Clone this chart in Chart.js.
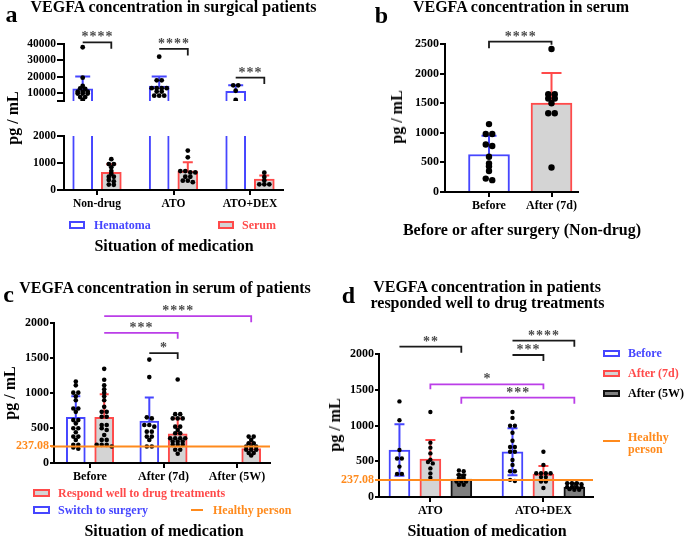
<!DOCTYPE html>
<html>
<head>
<meta charset="utf-8">
<title>VEGFA concentration</title>
<script src="https://cdn.jsdelivr.net/npm/chart.js@4.4.0/dist/chart.umd.min.js"></script>
<style>
  html, body { margin: 0; padding: 0; background: #fff; }
  #page { position: relative; width: 685px; height: 538px; overflow: hidden; background: #fff;
          font-family: 'Liberation Serif', 'Times New Roman', serif; font-weight: bold; color: #000; }
  #page canvas { position: absolute; }
  .t { position: absolute; white-space: nowrap; line-height: 1; transform: translate(-50%, -50%); }
  .l { position: absolute; white-space: nowrap; line-height: 1; transform: translateY(-50%); font-size: 12px; }
  .rot { transform: translate(-50%, -50%) rotate(-90deg); }
  .box { position: absolute; box-sizing: border-box; border: 2px solid; }
  .dash { position: absolute; height: 2px; background: #ff8a1c; }
</style>
</head>
<body>
<div id="page">
  <canvas id="chartA1"></canvas>
  <canvas id="chartA2"></canvas>
  <canvas id="chartB"></canvas>
  <canvas id="chartC"></canvas>
  <canvas id="chartD"></canvas>

  <!-- panel a -->
  <div class="t" style="left:11.5px;top:14px;font-size:24px">a</div>
  <div class="t" style="left:173.5px;top:6.5px;font-size:16px">VEGFA concentration in surgical patients</div>
  <div class="t rot" style="left:13px;top:117.5px;font-size:16px">pg / mL</div>
  <div class="box" style="left:69px;top:221px;width:16px;height:8px;border-color:#4646ff;background:#fff"></div>
  <div class="l" style="left:94px;top:225px;color:#4646ff">Hematoma</div>
  <div class="box" style="left:218px;top:221px;width:16px;height:8px;border-color:#ff4a4a;background:#d4d4d4"></div>
  <div class="l" style="left:242px;top:225px;color:#ff4a4a">Serum</div>
  <div class="t" style="left:174px;top:245.5px;font-size:16px">Situation of medication</div>

  <!-- panel b -->
  <div class="t" style="left:381.5px;top:15px;font-size:24px">b</div>
  <div class="t" style="left:521px;top:6.5px;font-size:16px">VEGFA concentration in serum</div>
  <div class="t rot" style="left:397px;top:116.5px;font-size:16px">pg / mL</div>
  <div class="t" style="left:522px;top:230px;font-size:16px">Before or after surgery (Non-drug)</div>

  <!-- panel c -->
  <div class="t" style="left:8.5px;top:293.5px;font-size:24px">c</div>
  <div class="t" style="left:165px;top:287.5px;font-size:16px">VEGFA concentration in serum of patients</div>
  <div class="t rot" style="left:10px;top:393px;font-size:16px">pg / mL</div>
  <div class="box" style="left:33px;top:489px;width:17px;height:8px;border-color:#ff4a4a;background:#d4d4d4"></div>
  <div class="l" style="left:58px;top:493px;color:#ff4a4a">Respond well to drug treatments</div>
  <div class="box" style="left:33px;top:506px;width:17px;height:8px;border-color:#4646ff;background:#fff"></div>
  <div class="l" style="left:58px;top:510px;color:#4646ff">Switch to surgery</div>
  <div class="dash" style="left:191px;top:509px;width:12px"></div>
  <div class="l" style="left:213px;top:510px;color:#ff8a1c">Healthy person</div>
  <div class="t" style="left:164px;top:530.5px;font-size:16px">Situation of medication</div>

  <!-- panel d -->
  <div class="t" style="left:348.5px;top:295px;font-size:24px">d</div>
  <div class="t" style="left:487px;top:286.5px;font-size:16px">VEGFA concentration in patients</div>
  <div class="t" style="left:487.5px;top:303px;font-size:16px">responded well to drug treatments</div>
  <div class="t rot" style="left:335px;top:425px;font-size:16px">pg / mL</div>
  <div class="box" style="left:603px;top:349.5px;width:17px;height:7px;border-color:#4646ff;background:#fff"></div>
  <div class="l" style="left:628px;top:353px;color:#4646ff">Before</div>
  <div class="box" style="left:603px;top:369.5px;width:17px;height:7px;border-color:#ff4a4a;background:#d4d4d4"></div>
  <div class="l" style="left:628px;top:373px;color:#ff4a4a">After (7d)</div>
  <div class="box" style="left:603px;top:389.5px;width:17px;height:7px;border-color:#111;background:#7f7f7f"></div>
  <div class="l" style="left:628px;top:393px">After (5W)</div>
  <div class="dash" style="left:603px;top:440px;width:17px"></div>
  <div class="l" style="left:628px;top:436.5px;color:#ff8a1c">Healthy</div>
  <div class="l" style="left:628px;top:449px;color:#ff8a1c">person</div>
  <div class="t" style="left:487px;top:530.5px;font-size:16px">Situation of medication</div>
</div>

<script>
// ---- data ----
const aCategories = ['Non-drug', 'ATO', 'ATO+DEX'];
const aHematomaMean = [12500, 14200, 11000];
const aHematomaSD = [7600, 5800, 3700];
const aSerumMean = [650, 700, 400];
const aSerumSD = [300, 330, 140];
const aHematomaPoints = [
    [38000, 19300, 14200, 12800, 12500, 10700, 10700, 10700, 9600, 9600, 9600, 7400, 7400, 5600],
    [32200, 17700, 17700, 12900, 12900, 12900, 12900, 10800, 10800, 8300, 8300, 8300],
    [14600, 14600, 11300, 5600]
];
const aSerumPoints = [
    [1140, 960, 960, 840, 700, 600, 490, 490, 370, 320, 200, 190],
    [1460, 1210, 700, 700, 650, 650, 490, 490, 345, 345, 290],
    [640, 480, 350, 210, 210, 210]
];
const aTopTicks = [5000, 10000, 20000, 30000, 40000];
const aBottomTicks = [0, 1000, 2000];

const bCategories = ['Before', 'After (7d)'];
const bMean = [634, 1500];
const bSD = [316, 510];
const bPoints = [
    [1147, 980, 980, 803, 776, 595, 481, 436, 355, 226, 200],
    [2415, 1650, 1650, 1580, 1580, 1500, 1330, 1330, 413]
];
const bTicks = [0, 500, 1000, 1500, 2000, 2500];

const healthy = 237.08;
const cCategories = ['Before', 'After (7d)', 'After (5W)'];
const cSwitchMean = [652, 600, null];
const cSwitchSD = [300, 335, null];
const cRespondMean = [652, 415, 207];
const cRespondSD = [330, 222, 76];
const cSwitchPoints = [
    [1165, 1109, 1005, 1005, 953, 896, 779, 779, 731, 613, 613, 566, 496, 496, 439, 377, 377, 330, 259, 259, 221, 203],
    [1477, 1227, 652, 637, 542, 542, 519, 448, 448, 377, 377, 330, 236, 236],
    []
];
const cRespondPoints = [
    [1345, 1189, 1109, 1052, 1005, 953, 896, 802, 731, 731, 660, 660, 542, 542, 496, 472, 401, 330, 330, 259, 259, 259, 236],
    [1193, 698, 698, 637, 637, 637, 519, 519, 472, 425, 425, 354, 354, 354, 354, 306, 306, 306, 259, 259, 259, 189, 189, 132],
    [377, 377, 330, 283, 283, 236, 236, 236, 189, 189, 189, 142, 142, 108]
];
const cTicks = [0, healthy, 500, 1000, 1500, 2000];

const dCategories = ['ATO', 'ATO+DEX'];
const dBeforeMean = [657, 633];
const dBeforeSD = [360, 330];
const d7dMean = [532, 319];
const d7dSD = [264, 116];
const d5wMean = [250, 139];
const d5wSD = [60, 55];
const dBeforePoints = [
    [1337, 1073, 657, 539, 539, 425, 323, 323],
    [1189, 1106, 997, 997, 898, 787, 700, 700, 633, 633, 518, 449, 361, 361, 240, 224]
];
const d7dPoints = [
    [1189, 760, 690, 610, 520, 490, 470, 400, 330, 270],
    [633, 449, 333, 333, 333, 333, 278, 278, 217, 217, 125]
];
const d5wPoints = [
    [370, 360, 310, 300, 264, 264, 217, 217, 217, 171, 171],
    [194, 194, 194, 180, 139, 139, 139, 139, 110, 101, 101]
];
const dTicks = [0, healthy, 500, 1000, 1500, 2000];

// ---- styling ----
const BLUE = '#4646ff', RED = '#ff4a4a', GREY = '#d4d4d4', DARK = '#7f7f7f';
const ORANGE = '#ff8a1c', PURPLE = '#bb3ee8', INK = '#1a1a1a', STAR = '#4a4a4a';
const FONT = "'Liberation Serif', 'Times New Roman', serif";
const PAD = 14, PADT = 34;

// spread points of one column into rows, like a scatter dot plot
function swarm(values, center, pxPerX, pxPerY, gap) {
    const sorted = values.slice().sort((p, q) => q - p);
    const rows = [];
    sorted.forEach(v => {
        const row = rows[rows.length - 1];
        if (row && (row[0] - v) * pxPerY < 2) row.push(v); else rows.push([v]);
    });
    const out = [];
    rows.forEach(row => row.forEach((v, k) => {
        out.push({ x: center + (k - (row.length - 1) / 2) * gap / pxPerX, y: v });
    }));
    return out;
}

const errorBars = {
    id: 'errorBars',
    afterDatasetDraw(chart, args) {
        const ds = chart.data.datasets[args.index];
        if (ds.type !== 'bar') return;
        const y = chart.scales.y, ctx = chart.ctx;
        ctx.save();
        ctx.strokeStyle = ds.errColor;
        ctx.lineWidth = 2;
        args.meta.data.forEach((bar, i) => {
            const p = ds.data[i];
            if (!p.sd) return;
            const top = y.getPixelForValue(p.y + p.sd);
            const bottom = ds.errBoth ? y.getPixelForValue(p.y - p.sd) : bar.y;
            const c = ds.cap / 2;
            ctx.beginPath();
            ctx.moveTo(bar.x, bottom); ctx.lineTo(bar.x, top);
            ctx.moveTo(bar.x - c, top); ctx.lineTo(bar.x + c, top);
            if (ds.errBoth) { ctx.moveTo(bar.x - c, bottom); ctx.lineTo(bar.x + c, bottom); }
            ctx.stroke();
        });
        ctx.restore();
    }
};

function annotate(brackets, line) {
    return {
        id: 'annotate',
        afterDatasetsDraw(chart) {
            const ctx = chart.ctx, x = chart.scales.x, y = chart.scales.y, area = chart.chartArea;
            ctx.save();
            if (line != null) {
                const hy = y.getPixelForValue(line);
                ctx.strokeStyle = ORANGE; ctx.lineWidth = 2;
                ctx.beginPath(); ctx.moveTo(area.left - 3, hy); ctx.lineTo(area.right, hy); ctx.stroke();
            }
            ctx.font = 'bold 14px ' + FONT;
            ctx.letterSpacing = '1px';
            ctx.textAlign = 'center';
            ctx.textBaseline = 'alphabetic';
            brackets.forEach(b => {
                const x1 = x.getPixelForValue(b.x1), x2 = x.getPixelForValue(b.x2), yy = y.getPixelForValue(b.y);
                ctx.strokeStyle = b.color; ctx.lineWidth = 1.8;
                ctx.beginPath();
                ctx.moveTo(x1, yy + (b.dropL || 0)); ctx.lineTo(x1, yy);
                ctx.lineTo(x2, yy); ctx.lineTo(x2, yy + (b.dropR || 0));
                ctx.stroke();
                ctx.fillStyle = STAR;
                ctx.fillText(b.text, (x1 + x2) / 2 + 0.5, yy - 1);
            });
            ctx.restore();
        }
    };
}

function buildPanel(id, geo, cats, yMin, yMax, yTicks, series, brackets, opts) {
    opts = opts || {};
    const pxX = geo.step;
    const pxY = (geo.b - geo.t) / (yMax - yMin);
    const showX = !opts.hideX;
    const canvas = document.getElementById(id);
    const w = geo.r - geo.l + geo.yw + 2 * PAD;
    const h = geo.b - geo.t + PADT + PAD + (showX ? geo.xh : 0);
    canvas.width = w; canvas.height = h;
    canvas.style.width = w + 'px'; canvas.style.height = h + 'px';
    canvas.style.left = (geo.l - geo.yw - PAD) + 'px';
    canvas.style.top = (geo.t - PADT) + 'px';

    const datasets = [];
    series.forEach(s => {
        const off = (s.offset || 0) / pxX;
        if (s.mean) {
            const bars = [];
            s.mean.forEach((m, i) => {
                if (m != null) bars.push({ x: i + off, y: m, sd: s.sd ? s.sd[i] : null });
            });
            datasets.push({
                type: 'bar', data: bars, backgroundColor: s.fill, borderColor: s.stroke,
                borderWidth: 2, borderSkipped: 'start', barThickness: geo.bar, grouped: false,
                clip: 0, order: 2, errColor: s.stroke, errBoth: !!s.both, cap: s.cap || 10
            });
        }
        if (s.points) {
            s.points.forEach((vals, i) => {
                if (!vals.length) return;
                datasets.push({
                    type: 'scatter', data: swarm(vals, i + off, pxX, pxY, geo.gap),
                    pointRadius: geo.dot, pointBackgroundColor: '#000', pointBorderWidth: 0, order: 0
                });
            });
        }
    });

    const marks = (brackets || []).map(b => ({
        x1: b.from[0] + (series[b.from[1]].offset || 0) / pxX,
        x2: b.to[0] + (series[b.to[1]].offset || 0) / pxX,
        y: b.y, text: b.text, color: b.color, dropL: b.dropL, dropR: b.dropR
    }));

    const isHealthy = v => Math.abs(v - healthy) < 0.001;
    const tickFont = { family: FONT, size: geo.font || 12, weight: 'bold' };

    return new Chart(canvas, {
        type: 'bar',
        data: { datasets: datasets },
        options: {
            responsive: false,
            animation: false,
            events: [],
            layout: { padding: { left: PAD, right: PAD, top: PADT, bottom: PAD } },
            plugins: { legend: { display: false }, tooltip: { enabled: false } },
            scales: {
                x: {
                    type: 'linear', display: showX, offset: false,
                    min: (geo.l - geo.cat0) / pxX, max: (geo.r - geo.cat0) / pxX,
                    afterBuildTicks: s => { s.ticks = cats.map((c, i) => ({ value: i })); },
                    afterFit: s => { s.height = geo.xh; },
                    ticks: { callback: v => cats[v], color: '#000', font: tickFont, padding: 2,
                             autoSkip: false, maxRotation: 0, minRotation: 0 },
                    grid: { offset: false, drawOnChartArea: false, drawTicks: true, tickLength: 5,
                            color: '#000', lineWidth: 2 },
                    border: { display: true, color: '#000', width: 2 }
                },
                y: {
                    type: 'linear', min: yMin, max: yMax,
                    afterBuildTicks: s => { s.ticks = yTicks.map(v => ({ value: v })); },
                    afterFit: s => { s.width = geo.yw; },
                    ticks: {
                        callback: v => (opts.blank && opts.blank.includes(v)) ? '' : String(v),
                        color: c => (c.tick && isHealthy(c.tick.value)) ? ORANGE : '#000',
                        font: tickFont, padding: 1, autoSkip: false
                    },
                    grid: { drawOnChartArea: false, drawTicks: true, tickLength: geo.tick,
                            color: c => (c.tick && isHealthy(c.tick.value)) ? ORANGE : '#000', lineWidth: 2 },
                    border: { display: true, color: '#000', width: 2 }
                }
            }
        },
        plugins: [errorBars, annotate(marks, opts.line)]
    });
}

// ---- panel a: broken axis drawn as two stacked charts ----
const geoA = { l: 64, r: 283, cat0: 97, step: 76.5, yw: 44, xh: 24, tick: 7, bar: 20, gap: 5, dot: 2.4, font: 11.5 };
buildPanel('chartA1', Object.assign({}, geoA, { t: 44, b: 125 }), aCategories, 5000, 40000, aTopTicks,
    [{ offset: -14.3, mean: aHematomaMean, sd: aHematomaSD, points: aHematomaPoints, fill: '#fff', stroke: BLUE, cap: 15 },
     { offset: 14.3 }],
    [{ from: [0, 0], to: [0, 1], y: 41000, text: '****', color: INK, dropR: 6.5 },
     { from: [1, 0], to: [1, 1], y: 37000, text: '****', color: INK, dropR: 6.5 },
     { from: [2, 0], to: [2, 1], y: 19400, text: '***', color: INK, dropR: 6.5 }],
    { hideX: true, blank: [5000] });
buildPanel('chartA2', Object.assign({}, geoA, { t: 136, b: 190 }), aCategories, 0, 2000, aBottomTicks,
    [{ offset: -14.3, mean: aHematomaMean, fill: '#fff', stroke: BLUE },
     { offset: 14.3, mean: aSerumMean, sd: aSerumSD, points: aSerumPoints, fill: GREY, stroke: RED, cap: 10 }],
    []);

// ---- panel b ----
buildPanel('chartB', { l: 445, r: 578, t: 44, b: 192, cat0: 489, step: 62.5, yw: 44, xh: 24, tick: 5, bar: 41, gap: 6.5, dot: 3.2 },
    bCategories, 0, 2500, bTicks,
    [{ offset: 0, mean: bMean.map((v, i) => i === 0 ? v : null), sd: bSD, points: bPoints.map((p, i) => i === 0 ? p : []),
       fill: '#fff', stroke: BLUE, cap: 15 },
     { offset: 0, mean: bMean.map((v, i) => i === 1 ? v : null), sd: bSD, points: bPoints.map((p, i) => i === 1 ? p : []),
       fill: GREY, stroke: RED, cap: 20 }],
    [{ from: [0, 0], to: [1, 1], y: 2539, text: '****', color: INK, dropL: 6.5, dropR: 3 }]);

// ---- panel c ----
buildPanel('chartC', { l: 54, r: 270, t: 322.5, b: 463, cat0: 90, step: 73.5, yw: 50, xh: 24, tick: 4, bar: 19, gap: 5, dot: 2.3 },
    cCategories, 0, 2000, cTicks,
    [{ offset: -14.2, mean: cSwitchMean, sd: cSwitchSD, points: cSwitchPoints, fill: '#fff', stroke: BLUE, cap: 9 },
     { offset: 14.2, mean: cRespondMean, sd: cRespondSD, points: cRespondPoints, fill: GREY, stroke: RED, cap: 9 }],
    [{ from: [0, 1], to: [2, 1], y: 2097, text: '****', color: PURPLE, dropR: 6 },
     { from: [0, 1], to: [1, 1], y: 1860, text: '***', color: PURPLE, dropR: 6 },
     { from: [1, 0], to: [1, 1], y: 1570, text: '*', color: INK, dropR: 6 }],
    { line: healthy });

// ---- panel d ----
buildPanel('chartD', { l: 378.5, r: 593, t: 354, b: 497, cat0: 430, step: 113.3, yw: 50, xh: 24, tick: 4, bar: 21, gap: 4.8, dot: 2.2 },
    dCategories, 0, 2000, dTicks,
    [{ offset: -31, mean: dBeforeMean, sd: dBeforeSD, points: dBeforePoints, fill: '#fff', stroke: BLUE, cap: 10, both: true },
     { offset: 0, mean: d7dMean, sd: d7dSD, points: d7dPoints, fill: GREY, stroke: RED, cap: 10 },
     { offset: 31, mean: d5wMean, sd: d5wSD, points: d5wPoints, fill: DARK, stroke: '#111', cap: 10 }],
    [{ from: [0, 0], to: [0, 2], y: 2102, text: '**', color: INK, dropR: 6 },
     { from: [1, 0], to: [1, 2], y: 2186, text: '****', color: INK, dropR: 6 },
     { from: [1, 0], to: [1, 1], y: 1986, text: '***', color: INK, dropR: 6 },
     { from: [0, 1], to: [1, 1], y: 1576, text: '*', color: PURPLE, dropL: 5, dropR: 5 },
     { from: [0, 2], to: [1, 2], y: 1389, text: '***', color: PURPLE, dropL: 6, dropR: 6 }],
    { line: healthy });
</script>
</body>
</html>
